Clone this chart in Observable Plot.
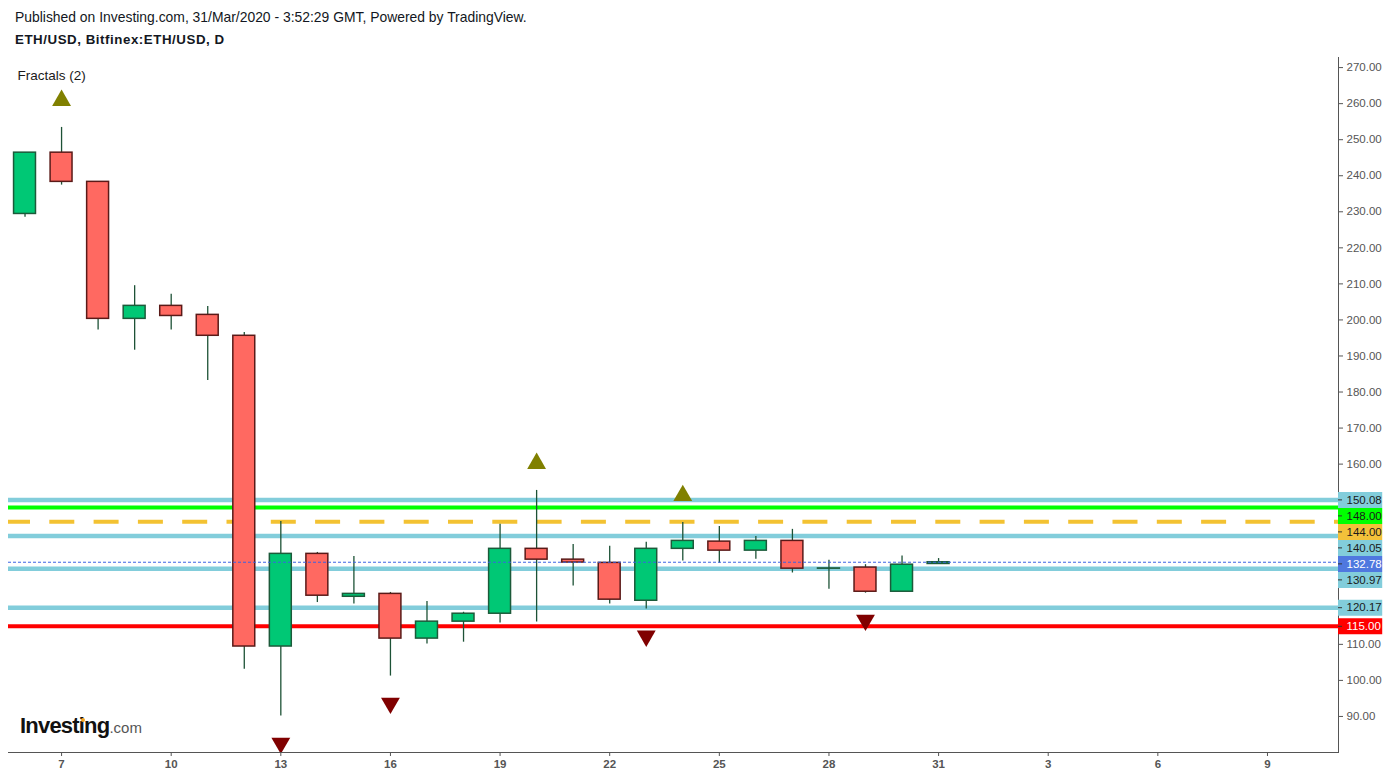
<!DOCTYPE html>
<html>
<head>
<meta charset="utf-8">
<script src="https://cdn.jsdelivr.net/npm/d3@7"></script>
<script src="https://cdn.jsdelivr.net/npm/@observablehq/plot@0.6"></script>
<style>
  html, body { margin: 0; padding: 0; background: #fff; }
  body { width: 1390px; height: 776px; position: relative; overflow: hidden; font-family: Arial, "Liberation Sans", sans-serif; }
  #header { position: relative; height: 50px; color: #131722; }
  #h1 { position: absolute; left: 15px; top: 9px; font-size: 13.9px; }
  #h2 { position: absolute; left: 15px; top: 32px; font-size: 13.3px; font-weight: bold; letter-spacing: 0.55px; }
  #logo { position: absolute; left: 20px; top: 714px; line-height: 24px; white-space: nowrap; }
  #logo .a { font-weight: bold; font-size: 22px; letter-spacing: -0.8px; color: #111; }
  #logo .b { font-size: 15px; color: #555; }
  #dot { position: absolute; width: 4px; height: 4px; border-radius: 2px; background: #f5a623; left: 81px; top: 718px; }
</style>
</head>
<body>
<div id="header">
  <div id="h1">Published on Investing.com, 31/Mar/2020 - 3:52:29 GMT, Powered by TradingView.</div>
  <div id="h2">ETH/USD, Bitfinex:ETH/USD, D</div>
</div>
<div id="chart"></div>
<div id="logo"><span class="a">Investing</span><span class="b">.com</span></div>
<div id="dot"></div>
<script>
// ---- data ----
const dates = ["2020-03-06","2020-03-07","2020-03-08","2020-03-09","2020-03-10","2020-03-11","2020-03-12",
  "2020-03-13","2020-03-14","2020-03-15","2020-03-16","2020-03-17","2020-03-18","2020-03-19","2020-03-20",
  "2020-03-21","2020-03-22","2020-03-23","2020-03-24","2020-03-25","2020-03-26","2020-03-27","2020-03-28",
  "2020-03-29","2020-03-30","2020-03-31"];
const open  = [229.4,246.4,238.3,200.3,203.9,201.4,195.6,109.4,135.1,123.2,124.0,111.6,116.3,118.5,136.5,133.5,132.6,122.1,136.5,138.5,136.0,138.7,131.0,131.3,124.6,132.3];
const high  = [246.4,253.4,238.3,209.5,207.1,203.7,196.5,144.1,135.5,134.4,124.4,121.9,118.9,143.3,152.7,137.7,137.2,138.3,143.8,142.7,139.9,141.9,133.3,132.1,134.5,133.8];
const low   = [228.5,237.4,197.2,191.6,197.2,183.2,103.1, 90.1,121.6,121.2,101.2,110.1,110.6,115.9,116.2,126.2,121.2,119.8,133.1,132.5,133.6,129.8,125.3,124.2,124.6,132.2];
const close = [246.4,238.3,200.3,203.9,201.1,195.6,109.4,135.1,123.5,124.0,111.6,116.3,118.5,136.5,133.5,132.7,122.4,136.5,138.7,136.0,138.7,131.0,131.05,124.6,132.1,132.78];

const fractalUpDates   = ["2020-03-07","2020-03-20","2020-03-24"];
const fractalDownDates = ["2020-03-13","2020-03-16","2020-03-23","2020-03-29"];

const lightBlueLevels = [150.08, 140.05, 130.97, 120.17];
const greenLevel = 148.00;
const orangeLevel = 144.00;
const redLevel = 115.00;
const lastPrice = 132.78;

const yTicks = [90,100,110,120,130,140,150,160,170,180,190,200,210,220,230,240,250,260,270];
const xTickDates = ["2020-03-07","2020-03-10","2020-03-13","2020-03-16","2020-03-19","2020-03-22",
  "2020-03-25","2020-03-28","2020-03-31","2020-04-03","2020-04-06","2020-04-09"];

// ---- layout ----
const DAY = 864e5;
const W = 1390, H = 726, mT = 7, mR = 52, mB = 24, mL = 8;
const xStart = new Date("2020-03-05T13:09:00Z");
const xEnd = new Date("2020-04-10T22:39:00Z");
const yDomain = [80.0, 272.8];

const candles = dates.map((d, i) => ({key: d, date: new Date(d), open: open[i], high: high[i], low: low[i], close: close[i]}));
const up = candles.filter(d => d.close >= d.open);
const down = candles.filter(d => d.close < d.open);
const byDate = new Map(candles.map(d => [d.key, d]));
const fracUp = fractalUpDates.map(d => byDate.get(d));
const fracDown = fractalDownDates.map(d => byDate.get(d));

const LB = "#82cddb";
const levelLabels = [
  ...lightBlueLevels.map(v => ({v, bg: LB, fg: "#1a1a1a"})),
  {v: greenLevel, bg: "#00ff00", fg: "#1a1a1a"},
  {v: orangeLevel, bg: "#f3c13a", fg: "#1a1a1a"},
  {v: lastPrice, bg: "#4f78df", fg: "#ffffff"},
  {v: redLevel, bg: "#ff0000", fg: "#ffffff"}
].sort((a, b) => b.v - a.v);
// stack labels so they don't overlap (16px boxes)
const ys = d3.scaleLinear(yDomain, [H - mB, mT]);
let prev = -Infinity;
for (const l of levelLabels) {
  const py = Math.max(ys(l.v), prev + 16);
  l.labelV = ys.invert(py);
  l.py = py;
  prev = py;
}
// axis tick labels hidden behind the price label boxes are not shown
const shownTicks = yTicks.filter(t => levelLabels.every(l => Math.abs(ys(t) - l.py) > 12));

const sq3 = Math.sqrt(3);
const triUp = {draw(ctx, size) { const y = -Math.sqrt(size / (sq3 * 3)); ctx.moveTo(0, 2 * y); ctx.lineTo(-sq3 * y, -y); ctx.lineTo(sq3 * y, -y); ctx.closePath(); }};
const triDown = {draw(ctx, size) { const y = Math.sqrt(size / (sq3 * 3)); ctx.moveTo(0, 2 * y); ctx.lineTo(-sq3 * y, -y); ctx.lineTo(sq3 * y, -y); ctx.closePath(); }};

const half = 0.3 * DAY;
const GREEN = "#00c875", GREEN_S = "#1c5a3a", RED = "#ff6961", RED_S = "#5a1a18", WICK = "#1d5236";

const plot = Plot.plot({
  width: W, height: H,
  marginTop: mT, marginRight: mR, marginBottom: mB, marginLeft: mL,
  style: {fontFamily: "Arial, 'Liberation Sans', sans-serif", fontSize: "11px", color: "#555", background: "white", overflow: "visible"},
  color: {type: "identity"},
  x: {type: "utc", domain: [xStart, xEnd], ticks: xTickDates.map(d => new Date(d)), tickFormat: d => String(d.getUTCDate()), tickSize: 4, tickPadding: 3, line: true, label: null},
  y: {domain: yDomain, axis: "right", ticks: shownTicks, tickFormat: d => d.toFixed(2), tickSize: 4, tickPadding: 4, line: true, label: null},
  marks: [
    Plot.ruleY(lightBlueLevels, {stroke: LB, strokeWidth: 4.5}),
    Plot.ruleY([greenLevel], {stroke: "#00ff00", strokeWidth: 4}),
    Plot.ruleY([orangeLevel], {stroke: "#f3c232", strokeWidth: 4, strokeDasharray: "25,19.3", strokeDashoffset: 3}),
    Plot.ruleY([redLevel], {stroke: "#ff0000", strokeWidth: 4}),
    Plot.ruleX(candles, {x: "date", y1: "low", y2: "high", stroke: WICK, strokeWidth: 1.3}),
    Plot.rect(up, {x1: d => new Date(+d.date - half), x2: d => new Date(+d.date + half), y1: "open", y2: "close", fill: GREEN, stroke: GREEN_S, strokeWidth: 1.5}),
    Plot.rect(down, {x1: d => new Date(+d.date - half), x2: d => new Date(+d.date + half), y1: "open", y2: "close", fill: RED, stroke: RED_S, strokeWidth: 1.5}),
    Plot.ruleY([lastPrice], {stroke: "#3b62e3", strokeWidth: 1, strokeDasharray: "3,2"}),
    Plot.dot(fracUp, {x: "date", y: "high", symbol: triUp, r: 7, fill: "#808000", stroke: "none", dy: -27, clip: true}),
    Plot.dot(fracDown, {x: "date", y: "low", symbol: triDown, r: 7, fill: "#800000", stroke: "none", dy: 27, clip: true}),
    Plot.ruleY(levelLabels, {y: "labelV", x1: () => xEnd, x2: () => new Date(+xEnd + 1.21 * DAY), stroke: "bg", strokeWidth: 16}),
    Plot.ruleY(levelLabels, {y: "labelV", x1: () => xEnd, x2: () => new Date(+xEnd + 0.11 * DAY), stroke: "#333", strokeWidth: 1}),
    Plot.text(levelLabels, {y: "labelV", x: () => xEnd, dx: 8, text: d => d.v.toFixed(2), fill: "fg", textAnchor: "start", fontSize: 11.5}),
    Plot.text(["Fractals (2)"], {text: d => d, frameAnchor: "top-left", dx: 9, dy: 13, fill: "#1a1a1a", textAnchor: "start", fontSize: 13.5})
  ]
});
document.getElementById("chart").appendChild(plot);
d3.select(plot).selectAll('[aria-label^="x-axis"], [aria-label^="y-axis"]').attr("font-size", 11.5);
d3.select(plot).selectAll('[aria-label^="x-axis"] text').attr("font-weight", "bold");
</script>
</body>
</html>
